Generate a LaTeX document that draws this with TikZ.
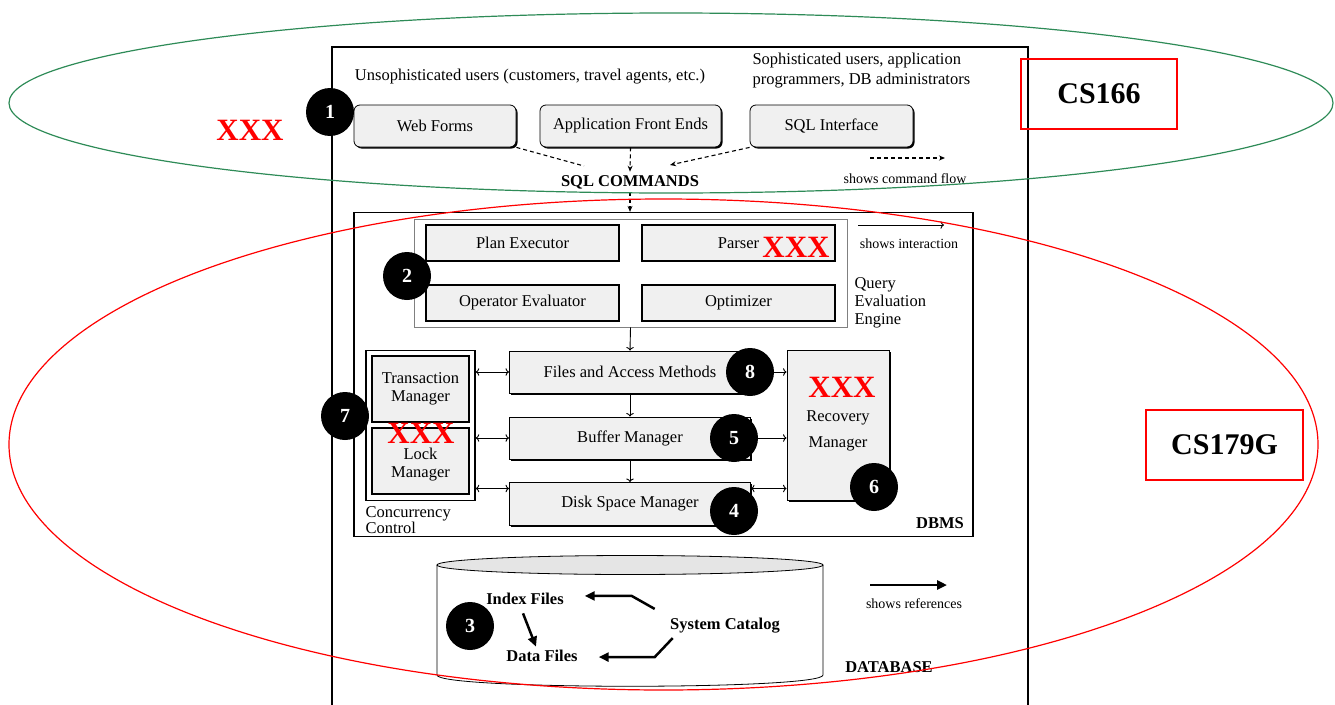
\documentclass[tikz,border=0pt]{standalone}
\usepackage{fontspec}
\setmainfont{Liberation Serif}
\usepackage{tikz}
\usetikzlibrary{shadows}
\usetikzlibrary{arrows.meta}
\definecolor{ellgreen}{RGB}{46,139,87}

\begin{document}
\begin{tikzpicture}[x=1pt,y=-1pt,
lbl/.style={font=\fontsize{16.5}{18}\selectfont},
smalllbl/.style={font=\fontsize{14}{16}\selectfont},
boldlbl/.style={font=\bfseries\fontsize{16.5}{18}\selectfont},
userbox/.style={rectangle, draw, thick, rounded corners=6pt, fill=gray!12, minimum height=42pt, font=\fontsize{16.5}{18}\selectfont, drop shadow={shadow xshift=1.5pt,shadow yshift=-1.5pt,fill=black,opacity=1}},
querybox/.style={rectangle, draw, line width=1.6pt, fill=gray!12, minimum width=193pt, minimum height=36pt, font=\fontsize{16.5}{18}\selectfont},
layerbox/.style={rectangle, draw, thick, fill=gray!12, minimum width=241pt, font=\fontsize{16.5}{18}\selectfont, drop shadow={shadow xshift=1.5pt,shadow yshift=-1.5pt,fill=black,opacity=1}},
numdot/.style={circle, fill=black, text=white, inner sep=0pt, minimum size=48pt, font=\bfseries\fontsize{20}{20}\selectfont},
tagbox/.style={rectangle, draw=red, line width=1.3pt, font=\bfseries\fontsize{30}{30}\selectfont},
xmark/.style={text=red, inner sep=0pt, font=\bfseries\fontsize{31}{31}\selectfont},
flow/.style={-{Stealth[length=6pt,width=5pt]}, line width=1.1pt, dash pattern=on 4pt off 3pt},
link/.style={line width=0.9pt},
refarrow/.style={line width=2.5pt, -{Triangle[length=10pt,width=9pt]}}
]
\useasboundingbox (0,0) rectangle (1335,704);

%Frame
\draw[line width=1.5pt] (332,708) -- (332,47) -- (1028,47) -- (1028,708);

%Nodes
\node[lbl] at (530,77) (unsoph) {Unsophisticated users (customers, travel agents, etc.)};
\node[lbl, anchor=west, align=left, font=\fontsize{16.5}{20}\selectfont] at (749,71) (soph) {Sophisticated users, application\\programmers, DB administrators};

\node[userbox, minimum width=162pt] at (435,126) (webforms) {Web Forms};
\node[userbox, minimum width=181pt] at (630.5,126) (frontends) {Application Front Ends};
\node[userbox, minimum width=163pt] at (831.5,126) (sqlif) {SQL Interface};

\node[boldlbl] at (630,182) (sqlcmd) {SQL COMMANDS};
\coordinate (webend) at (584,166);
\coordinate (sqlend) at (670,165);

\coordinate (flowA) at (870,158);
\coordinate (flowB) at (945,158);
\node[smalllbl] at (905,179) (flowtxt) {shows command flow};

\node[draw, line width=1.3pt, inner sep=0pt, minimum width=619pt, minimum height=324pt] at (663.5,374.5) (dbms) {};
\node[boldlbl] at (940,523) (dbmstxt) {DBMS};

\node[draw=gray, thick, inner sep=0pt, minimum width=433pt, minimum height=108pt] at (630.5,273) (qee) {};
\node[querybox] at (522.5,243) (planex) {Plan Executor};
\node[querybox] at (738.5,243) (parser) {Parser};
\node[querybox] at (522.5,303) (opeval) {Operator Evaluator};
\node[querybox] at (738.5,303) (optim) {Optimizer};
\node[lbl, anchor=west, align=left] at (851,303) (qeetxt) {Query\\Evaluation\\Engine};

\coordinate (intA) at (858,225);
\coordinate (intB) at (944,225);
\node[smalllbl] at (909,244) (inttxt) {shows interaction};

\node[layerbox, minimum height=42pt] at (630,372) (files) {Files and Access Methods};
\node[layerbox, minimum height=42pt] at (630,438) (buffer) {Buffer Manager};
\node[layerbox, minimum height=43pt] at (630,504) (disk) {Disk Space Manager};
\coordinate (diskline) at (630,488.5);

\node[draw, line width=1.3pt, inner sep=0pt, minimum width=109pt, minimum height=150pt] at (420.5,425.5) (ccbox) {};
\node[querybox, minimum width=97pt, minimum height=66pt, align=center] at (420.5,389) (trans) {Transaction\\Manager};
\node[querybox, minimum width=97pt, minimum height=66pt, align=center] at (420.5,461) (lock) {\rule{0pt}{18pt}Lock\\Manager};
\node[lbl, anchor=north west, align=left, font=\fontsize{16.5}{14}\selectfont] at (362,503) (cctxt) {Concurrency\\Control};

\node[layerbox, minimum width=102pt, minimum height=150pt, align=center, font=\fontsize{16.5}{26}\selectfont] at (838,425.5) (recov) {\rule{0pt}{22pt}Recovery\\Manager};

%Database
\draw[thick, fill=white] (437,565) -- (437,675) .. controls (437,690) and (823,690) .. (823,675) -- (823,565);
\draw[thick, fill=gray!20] (630,565) ellipse [x radius=193, y radius=9.5];
\node[boldlbl] at (525,599) (index) {Index Files};
\node[boldlbl] at (542,656) (data) {Data Files};
\node[boldlbl] at (725,626) (catalog) {System Catalog};
\node[boldlbl] at (889,667) (dbname) {DATABASE};

\coordinate (refA) at (870,585);
\coordinate (refB) at (947,585);
\node[smalllbl] at (914,604) (reftxt) {shows references};

%Lines
\draw[line width=1.1pt, dash pattern=on 4pt off 3pt] (webforms.south east) -- (webend);
\draw[flow] (frontends.south) -- (sqlcmd.north);
\draw[flow] (sqlif.south west) -- (sqlend);
\draw[flow] (sqlcmd.south) -- (sqlcmd.south |- dbms.north);
\draw[flow] (flowA) -- (flowB);

\draw[link, ->] (intA) -- (intB);
\draw[link, ->] (qee.south) -- (files.north);
\draw[link, ->] (files.south) -- (buffer.north);
\draw[link, ->] (buffer.south) -- (disk.north);

\draw[link, <->] (ccbox.east |- files) -- (files.west);
\draw[link, <->] (ccbox.east |- buffer) -- (buffer.west);
\draw[link, <->] (ccbox.east |- diskline) -- (disk.west |- diskline);
\draw[link, <->] (files.east) -- (recov.west |- files);
\draw[link, <->] (buffer.east) -- (recov.west |- buffer);
\draw[link, <->] (disk.east |- diskline) -- (recov.west |- diskline);

\draw[refarrow] (catalog.north west) ++(-12,-6) -- ++(-23,-13) -- ++(-47,0);
\draw[refarrow] (catalog.south west) ++(6,1) -- ++(-18,19) -- ++(-56,0);
\draw[refarrow] ([shift={(-2pt,-5pt)}]index.south) -- ([xshift=-6pt]data.north);
\draw[refarrow] (refA) -- (refB);

%Numbers
\node[numdot] at (330,112) (n1) {1};
\node[numdot] at (407,276) (n2) {2};
\node[numdot] at (470,626) (n3) {3};
\node[numdot] at (734,511) (n4) {4};
\node[numdot] at (734,438) (n5) {5};
\node[numdot] at (874,487) (n6) {6};
\node[numdot] at (345,416) (n7) {7};
\node[numdot] at (750,372) (n8) {8};

%Courses
\node[tagbox, minimum width=156pt, minimum height=70pt] at (1099,94) (cs166) {CS166};
\node[tagbox, minimum width=157pt, minimum height=70pt] at (1224.5,445) (cs179) {CS179G};
\node[xmark] at (250,130) (xleft) {XXX};
\node[xmark] at (796,247) (xparser) {XXX};
\node[xmark] at (421,433) (xlock) {XXX};
\node[xmark] at (842,387) (xrecov) {XXX};

\draw[ellgreen, line width=1.2pt] (671,103) ellipse [x radius=662, y radius=90];
\draw[red, line width=1.2pt] (663.5,444.5) ellipse [x radius=654.5, y radius=245.5];
\end{tikzpicture}
\end{document}
